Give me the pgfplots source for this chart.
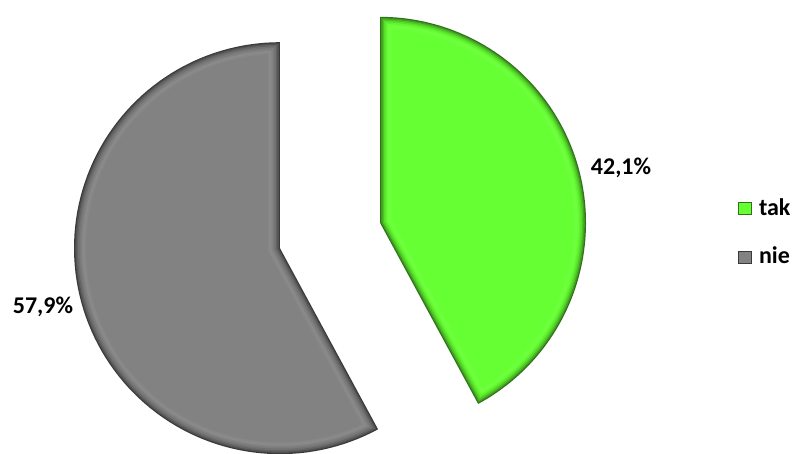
\documentclass[border=0pt]{standalone}
\usepackage{fontspec}
\setmainfont{Carlito}
\usepackage{pgfplots}
\pgfplotsset{compat=1.18}
\definecolor{G}{RGB}{102,255,51}
\definecolor{Y}{RGB}{130,130,130}
% data (percent)
\def\pTak{42.1}
\def\pNie{57.9}
\newcommand\wedgelayer[7]{% cx cy a1 a2 bisector inset color
  \pgfmathsetmacro\ax{#1+#6/0.9694*cos(#5)}%
  \pgfmathsetmacro\ay{#2+#6/0.9694*sin(#5)}%
  \pgfmathsetmacro\rr{206-#6}%
  \pgfmathsetmacro\dd{asin(#6/\rr)}%
  \pgfmathsetmacro\sg{sign(#4-#3)}%
  \pgfmathsetmacro\sa{#3+\sg*\dd}%
  \pgfmathsetmacro\ea{#4-\sg*\dd}%
  \edef\doit{\noexpand\addplot[draw=none, fill=#7, forget plot, domain=\sa:\ea, samples=100] ({#1+\rr*cos(x)},{#2+\rr*sin(x)}) -- (axis cs:\ax,\ay) -- cycle;}%
  \doit
}
\newcommand\slice[6]{% cx cy a1 a2 bis basecolor
  \wedgelayer{#1}{#2}{#3}{#4}{#5}{0}{#6!45!black}
  \wedgelayer{#1}{#2}{#3}{#4}{#5}{1.2}{#6!62!black}
  \wedgelayer{#1}{#2}{#3}{#4}{#5}{2.5}{#6!76!black}
  \wedgelayer{#1}{#2}{#3}{#4}{#5}{4}{#6!87!black}
  \wedgelayer{#1}{#2}{#3}{#4}{#5}{5.5}{#6!95!black}
  \wedgelayer{#1}{#2}{#3}{#4}{#5}{7}{#6}
  \wedgelayer{#1}{#2}{#3}{#4}{#5}{8.5}{#6!93!white}
  \wedgelayer{#1}{#2}{#3}{#4}{#5}{10}{#6!96!white}
  \wedgelayer{#1}{#2}{#3}{#4}{#5}{12}{#6}
}
\begin{document}
\begin{tikzpicture}
\pgfmathsetmacro\aTak{90-3.6*\pTak}
\pgfmathsetmacro\bTak{90-1.8*\pTak}
\pgfmathsetmacro\aNie{90+3.6*\pNie}
\pgfmathsetmacro\bNie{90+1.8*\pNie}
\pgfmathsetmacro\gx{330+51.6*cos(\bTak)}
\pgfmathsetmacro\gy{217.5+51.6*sin(\bTak)}
\pgfmathsetmacro\hx{330+51.6*cos(\bNie)}
\pgfmathsetmacro\hy{217.5+51.6*sin(\bNie)}
\begin{axis}[
  width=798pt, height=453pt, scale only axis,
  xmin=0, xmax=798, ymin=0, ymax=453,
  hide axis, clip=true,
  legend image code/.code={\draw[#1, line width=0.8pt] (0pt,-7pt) rectangle (13pt,5pt);},
  legend style={draw=none, fill=none, at={(axis cs:738,221)}, anchor=west,
    font=\fontsize{24}{28}\selectfont\bfseries, row sep=26pt,
    inner sep=0pt, /tikz/every odd column/.append style={column sep=5pt}},
  legend cell align=left,
]
\addplot[draw=none, forget plot] coordinates {(0,0) (798,453)};
\slice{\hx}{\hy}{90}{\aNie}{\bNie}{Y}
\slice{\gx}{\gy}{90}{\aTak}{\bTak}{G}
\addlegendimage{fill=G, draw=G!45!black}
\addlegendentry{tak}
\addlegendimage{fill=Y, draw=Y!45!black}
\addlegendentry{nie}
\node[font=\fontsize{24}{28}\selectfont\bfseries, text=black] at (axis cs:621,285) {42,1\%};
\node[font=\fontsize{24}{28}\selectfont\bfseries, text=black] at (axis cs:43,146) {57,9\%};
\end{axis}
\end{tikzpicture}
\end{document}
